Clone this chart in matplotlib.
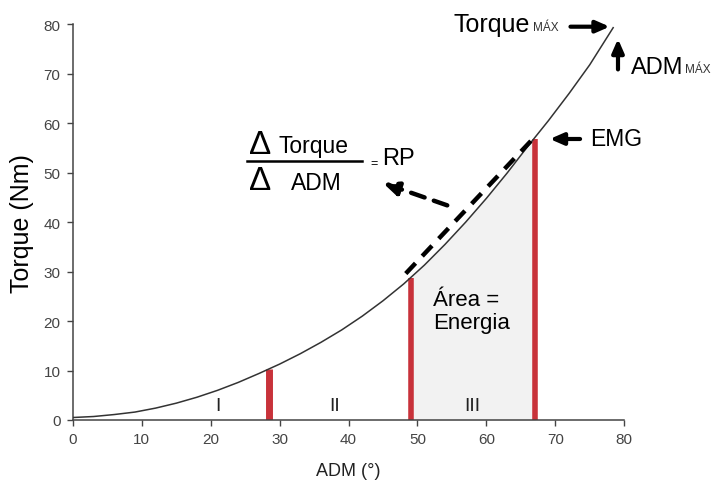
import numpy as np
import matplotlib.pyplot as plt

plt.rcParams['font.family'] = ['Liberation Sans', 'DejaVu Sans']

# curve (ADM in degrees, torque in Nm)
adm = [0, 3, 6, 9, 12, 15, 18, 21, 24, 27, 30, 33, 36, 39, 42, 45, 48, 51,
       54, 57, 60, 63, 66, 69, 72, 75, 78.4]
torque = [0.5, 0.7, 1.1, 1.6, 2.4, 3.4, 4.6, 6.0, 7.6, 9.4, 11.3, 13.4, 15.7,
          18.2, 21.0, 24.1, 27.5, 31.3, 35.5, 40.0, 44.8, 49.9, 55.3, 60.5,
          66.0, 71.8, 79.3]

# red markers (phase boundaries)
bar_x = [28.5, 49, 67]
bar_top = [10.3, 28.8, 56.8]
bar_w = [5, 4, 4]

# dashed chord (RP) and its pointer
chord_x = [48.3, 66.6]
chord_y = [29.6, 56.6]
ptr_from = (54.7, 43.2)
ptr_to = (44.6, 48.1)

phases = ['I', 'II', 'III']
phase_x = [21, 38, 58]

red = '#c8323a'
axis_col = '#444444'

fig = plt.figure(figsize=(7.15, 4.85), dpi=100)
ax = fig.add_axes([0.102, 0.132, 0.771, 0.816])

# area under curve between the last two markers
xa = np.array(adm)
ya = np.array(torque)
inside = (xa > bar_x[1]) & (xa < bar_x[2])
xf = np.concatenate([[bar_x[1]], xa[inside], [bar_x[2]]])
yf = np.concatenate([[bar_top[1]], ya[inside], [bar_top[2]]])
ax.fill_between(xf, 0, yf, color='#f2f2f2', zorder=1)

ax.plot(adm, torque, color='#333333', lw=1.1, zorder=3)

for x, t, w in zip(bar_x, bar_top, bar_w):
    ax.plot([x, x], [0, t], color=red, lw=w, solid_capstyle='butt', zorder=2)

ax.plot(chord_x, chord_y, color='black', lw=3.2, dashes=(3.2, 2.2), zorder=4)
ax.annotate('', xy=ptr_to, xytext=ptr_from,
            arrowprops=dict(arrowstyle='-|>,head_length=0.9,head_width=0.4',
                            color='black', lw=3.2, linestyle=(0, (3.2, 2.2))))

for lab, x in zip(phases, phase_x):
    ax.text(x, 1.2, lab, ha='center', va='bottom', fontsize=14, color='#222222')

ax.text(52.3, 22, 'Área =\nEnergia', ha='left', va='center', fontsize=16,
        linespacing=1.15)

# fraction
ax.text(27.1, 55.6, 'Δ', fontsize=24, ha='center', va='center')
ax.text(29.8, 55.4, 'Torque', fontsize=16.5, ha='left', va='center')
ax.plot([25.3, 42.0], [52.3, 52.3], color='black', lw=1.8)
ax.text(27.1, 48.4, 'Δ', fontsize=24, ha='center', va='center')
ax.text(31.6, 48.1, 'ADM', fontsize=16.5, ha='left', va='center')
ax.text(43.2, 52.0, '=', fontsize=9, ha='left', va='center')
ax.text(44.8, 53.0, 'RP', fontsize=17, ha='left', va='center')

# max annotations
ax.text(55.3, 80.0, 'Torque', fontsize=18, ha='left', va='center', clip_on=False)
ax.text(66.7, 79.5, 'MÁX', fontsize=8.5, ha='left', va='center', color='#333333',
        clip_on=False)
ax.annotate('', xy=(78.3, 79.5), xytext=(71.8, 79.5),
            arrowprops=dict(arrowstyle='-|>,head_length=0.8,head_width=0.35',
                            color='black', lw=3), annotation_clip=False)
ax.annotate('', xy=(79.1, 77.6), xytext=(79.1, 70.3),
            arrowprops=dict(arrowstyle='-|>,head_length=0.8,head_width=0.35',
                            color='black', lw=3), annotation_clip=False)
ax.text(81.0, 71.3, 'ADM', fontsize=17, ha='left', va='center', clip_on=False)
ax.text(88.8, 70.9, 'MÁX', fontsize=8.5, ha='left', va='center', color='#333333',
        clip_on=False)

ax.annotate('', xy=(68.8, 56.8), xytext=(74.0, 56.8),
            arrowprops=dict(arrowstyle='-|>,head_length=0.8,head_width=0.35',
                            color='black', lw=3))
ax.text(75.0, 57.0, 'EMG', fontsize=16.5, ha='left', va='center')

ax.set_xlim(0, 80)
ax.set_ylim(0, 80)
ax.set_xticks(range(0, 81, 10))
ax.set_yticks(range(0, 81, 10))
ax.tick_params(direction='out', length=4, width=1, colors=axis_col,
               labelsize=11, pad=5)
for s in ['top', 'right']:
    ax.spines[s].set_visible(False)
for s in ['left', 'bottom']:
    ax.spines[s].set_color(axis_col)
    ax.spines[s].set_linewidth(1.1)

ax.set_xlabel('ADM (°)', fontsize=13, color='#222222', labelpad=11)
ax.set_ylabel('Torque (Nm)', fontsize=18, color='black', labelpad=7)

fig.savefig('out.png', dpi=100)
